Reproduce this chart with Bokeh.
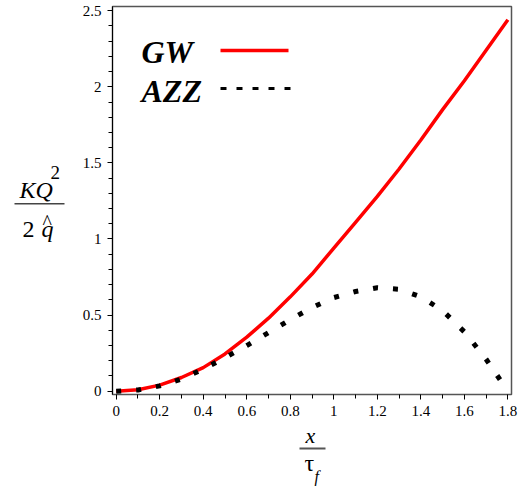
from bokeh.plotting import figure
from bokeh.layouts import row, column
from bokeh.models import Range1d, FixedTicker, Label, BoxAnnotation
from bokeh.embed import file_html
from bokeh.resources import INLINE

# ---------------- data ----------------
X = [0.0, 0.1, 0.2, 0.3, 0.4, 0.5, 0.6, 0.7, 0.8, 0.9, 1.0,
     1.1, 1.2, 1.3, 1.4, 1.5, 1.6, 1.7, 1.8]
GW = [0.0, 0.01, 0.04, 0.09, 0.155, 0.245, 0.355, 0.48, 0.62, 0.77, 0.94,
      1.11, 1.28, 1.46, 1.65, 1.85, 2.04, 2.24, 2.44]
AZZ = [0.0, 0.008, 0.035, 0.08, 0.145, 0.22, 0.30, 0.385, 0.47, 0.55, 0.615,
       0.655, 0.68, 0.67, 0.62, 0.53, 0.39, 0.21, 0.0]

X_TICKS = [0, 0.2, 0.4, 0.6, 0.8, 1, 1.2, 1.4, 1.6, 1.8]
X_TICK_LABELS = ["0", "0.2", "0.4", "0.6", "0.8", "1", "1.2", "1.4", "1.6", "1.8"]
X_MINOR = [0.1, 0.3, 0.5, 0.7, 0.9, 1.1, 1.3, 1.5, 1.7]
Y_TICKS = [0, 0.5, 1, 1.5, 2, 2.5]
Y_TICK_LABELS = ["0", "0.5", "1", "1.5", "2", "2.5"]
Y_MINOR = [0.1, 0.2, 0.3, 0.4, 0.6, 0.7, 0.8, 0.9, 1.1, 1.2, 1.3, 1.4,
           1.6, 1.7, 1.8, 1.9, 2.1, 2.2, 2.3, 2.4]

SERIES_NAMES = ["GW", "AZZ"]

SERIF = "Liberation Serif"

# ---------------- layout (page pixels) ----------------
LEFT_W = 70                 # width of the y-label strip
MAIN_W, MAIN_H = 448, 424   # main figure
BL, BR, BT, BB = 42, 7, 6, 30
BOTTOM_H = 64               # height of the x-label strip
X0, X1 = -0.017, 1.8166
Y0, Y1 = -0.0217, 2.5276
FW = MAIN_W - BL - BR
FH = MAIN_H - BT - BB
BASE_SHIFT = 0.3375         # label anchor -> baseline offset, in em


def dx(px):
    # page pixel -> data x of the main figure
    return X0 + (px - LEFT_W - BL) / FW * (X1 - X0)


def dy(py):
    # page pixel -> data y of the main figure
    return Y1 - (py - BT) / FH * (Y1 - Y0)


p = figure(width=MAIN_W, height=MAIN_H, output_backend="svg", toolbar_location=None,
           title=None,
           x_range=Range1d(X0, X1), y_range=Range1d(Y0, Y1),
           min_border_left=BL, min_border_right=BR,
           min_border_top=BT, min_border_bottom=BB)
p.grid.visible = False
p.background_fill_color = "white"
p.border_fill_color = "white"
p.outline_line_color = "#555555"
p.outline_line_width = 1.5

for ax, ticks, minor, labels in ((p.xaxis, X_TICKS, X_MINOR, X_TICK_LABELS),
                                 (p.yaxis, Y_TICKS, Y_MINOR, Y_TICK_LABELS)):
    ax.ticker = FixedTicker(ticks=ticks, minor_ticks=minor)
    ax.major_label_overrides = {t: l for t, l in zip(ticks, labels)}
    ax.major_tick_in = 0
    ax.major_tick_out = 5
    ax.minor_tick_in = 0
    ax.minor_tick_out = 4
    ax.major_tick_line_color = "black"
    ax.minor_tick_line_color = "black"
    ax.major_label_text_font = SERIF
    ax.major_label_text_font_size = "15px"
    ax.major_label_text_color = "black"
    ax.major_label_standoff = 6

p.yaxis.axis_line_color = "black"
p.xaxis.axis_line_color = "#555555"

# ---------------- curves ----------------
p.line(X, GW, line_color="#ff0000", line_width=3.5)
p.line(X, AZZ, line_color="black", line_width=5, line_dash="5 15", line_cap="butt")


# ---------------- strips for the axis titles ----------------
def strip(w, h, x_off, y_off, bt=0, bb=0):
    fh = h - bt - bb
    f = figure(width=w, height=h, output_backend="svg", toolbar_location=None,
               title=None,
               x_range=Range1d(0, w), y_range=Range1d(0, fh),
               min_border_left=0, min_border_right=0,
               min_border_top=bt, min_border_bottom=bb,
               x_axis_location=None, y_axis_location=None)
    f.grid.visible = False
    f.outline_line_color = None
    f.background_fill_color = "white"
    f.border_fill_color = "white"
    # page offset of the frame's left edge / top edge, and frame height
    f.tags = [x_off, y_off + bt, fh]
    return f


def sx(fig, px):
    if fig is p:
        return dx(px)
    return px - fig.tags[0]


def sy(fig, py):
    if fig is p:
        return dy(py)
    return fig.tags[1] + fig.tags[2] - py


def lab(fig, text, px, py, size, style="italic"):
    # (px, py): left end of the text baseline, in page pixels
    fig.add_layout(Label(x=sx(fig, px), y=sy(fig, py - BASE_SHIFT * size), text=text,
                         text_font=SERIF, text_font_size=f"{size}px",
                         text_font_style=style, text_color="black",
                         text_baseline="middle", text_align="left"))


def bar(fig, x0, x1, y0, y1, color):
    fig.add_layout(BoxAnnotation(left=sx(fig, x0), right=sx(fig, x1),
                                 top=sy(fig, y0), bottom=sy(fig, y1),
                                 fill_color=color, fill_alpha=1, line_alpha=0))


# ---------------- legend (label then sample) ----------------
lab(p, SERIES_NAMES[0], 141, 62, 32, "bold italic")
lab(p, SERIES_NAMES[1], 141, 101, 32, "bold italic")
p.segment(x0=[dx(220)], y0=[dy(50)], x1=[dx(288)], y1=[dy(50)],
          line_color="#ff0000", line_width=3.5)
p.segment(x0=[dx(220)], y0=[dy(88)], x1=[dx(292)], y1=[dy(88)],
          line_color="black", line_width=3, line_dash="6 10", line_cap="butt")

# y title: frame of this strip is aligned with the main frame (BT .. MAIN_H - BB)
ylab = strip(LEFT_W, MAIN_H, 0, 0, BT, BB)
lab(ylab, "KQ", 19, 198, 24)
lab(ylab, "2", 50, 178, 19, "normal")
bar(ylab, 14, 64, 202.5, 204, "#444444")
lab(ylab, "2", 22, 237, 24, "normal")
lab(ylab, "q", 41, 237, 24)
lab(ylab, "^", 42, 228, 20, "normal")

xlab = strip(LEFT_W + MAIN_W, BOTTOM_H, 0, MAIN_H)
lab(xlab, "x", 305, 442, 22)
bar(xlab, 299, 325, 447, 449, "#555555")
lab(xlab, "\u03c4", 304, 471, 24, "normal")
lab(xlab, "f", 314, 481, 16)

layout = column(row(ylab, p), xlab)

open("out.html", "w").write(file_html(layout, INLINE))
